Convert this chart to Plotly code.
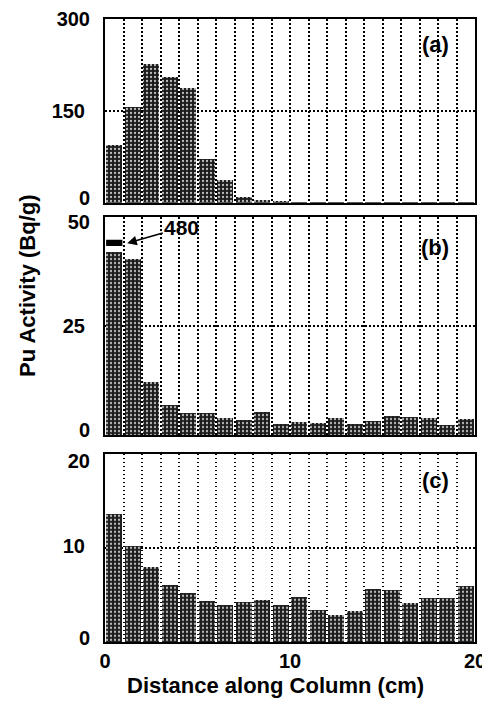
import plotly.graph_objects as go

# ---- data ----
positions = [i + 0.5 for i in range(20)]  # cm, centre of each 1-cm section
a_values = [95, 157, 227, 205, 187, 72, 37, 10, 4, 2, 1, 0.5, 0.5, 0.5, 0.5, 0.5, 0.5, 0.5, 0.5, 0.5]
b_values = [42.0, 40.4, 12.2, 6.8, 5.0, 5.1, 3.8, 3.4, 5.2, 2.5, 3.0, 2.8, 3.8, 2.5, 3.3, 4.4, 4.1, 3.8, 2.2, 3.7]
b_first_true = 480
c_values = [13.6, 10.2, 8.0, 6.1, 5.2, 4.4, 4.0, 4.3, 4.5, 3.9, 4.8, 3.4, 2.9, 3.3, 5.7, 5.55, 4.2, 4.7, 4.7, 6.0]
panel_labels = ["(a)", "(b)", "(c)"]
y_ticks = [[0, 150, 300], [0, 25, 50], [0, 10, 20]]
x_tick_labels = {0: "0", 10: "10", 20: "20"}
x_title = "Distance along Column (cm)"
y_title = "Pu Activity (Bq/g)"

bar_width = 0.88
FAMILY = "Liberation Sans, Arial, Helvetica, sans-serif"
FONT = dict(family=FAMILY, size=22, color="black", weight="bold")
TICKFONT = dict(family=FAMILY, size=20, color="black", weight="bold")

marker = dict(
    color="#1c1c1c",
    line=dict(width=0),
    pattern=dict(shape=".", fgcolor="#bdbdbd", bgcolor="#1c1c1c", size=4, solidity=0.25, fillmode="replace"),
)

fig = go.Figure()
series = [a_values, b_values, c_values]
for i, vals in enumerate(series):
    fig.add_trace(go.Bar(
        x=positions, y=vals, width=bar_width, marker=marker,
        xaxis="x" if i == 0 else f"x{i+1}", yaxis="y" if i == 0 else f"y{i+1}",
        showlegend=False,
    ))

domains = [[0.705, 1.0], [0.332, 0.682], [0.0, 0.302]]
# upward pixel nudges of the tick labels (bottom, middle, top), as in the original figure
label_up = [(5, 0, 0), (5, 0, -5), (4, 2, -7)]
tickvals_x = list(range(0, 21))
GRID_DASH = "1.5px,2.5px"
extra = 4
for i in range(3):
    sfx = "" if i == 0 else str(i + 1)
    lo, mid, hi = y_ticks[i]
    fig.update_layout(**{
        f"xaxis{sfx}": dict(
            domain=[0, 1], range=[0, 20], anchor=f"y{sfx}",
            tickvals=tickvals_x,
            ticktext=[x_tick_labels.get(v, "") if i == 2 else "" for v in tickvals_x],
            showgrid=True, gridcolor="black", griddash=GRID_DASH, gridwidth=1.5,
            showline=True, mirror=True, linecolor="black", linewidth=2,
            ticks="", tickfont=TICKFONT, zeroline=False, fixedrange=True,
            automargin=False, ticklabelstandoff=0,
        ),
        f"yaxis{sfx}": dict(
            domain=domains[i], range=[0, hi], anchor=f"x{sfx}",
            tickvals=[lo, mid, hi], ticktext=["", str(mid), ""],
            showgrid=True, gridcolor="black", griddash=GRID_DASH, gridwidth=1.5,
            showline=True, mirror=True, linecolor="black", linewidth=2,
            ticks="", tickfont=TICKFONT, zeroline=False, ticklabelstandoff=14,
            automargin=False, ticklabelshift=-label_up[i][1],
        ),
    })
    # labels for the end ticks, on overlaying axes so they can be nudged inward
    for val, up in ((lo, label_up[i][0]), (hi, label_up[i][2])):
        fig.update_layout(**{
            f"yaxis{extra}": dict(
                overlaying=f"y{sfx}", anchor=f"x{sfx}", side="left", range=[0, hi],
                tickvals=[val], ticktext=[str(val)], showgrid=False, showline=False,
                zeroline=False, ticks="", tickfont=TICKFONT, ticklabelstandoff=14,
                automargin=False, ticklabelshift=-up,
            )
        })
        # invisible placeholder so the overlaying axis is drawn
        fig.add_trace(go.Scatter(
            x=[positions[0]], y=[0], mode="markers", marker=dict(opacity=0),
            xaxis="x" if i == 0 else f"x{i+1}", yaxis=f"y{extra}",
            showlegend=False, hoverinfo="skip",
        ))
        extra += 1

# panel labels
for i, lab in enumerate(panel_labels):
    sfx = "" if i == 0 else str(i + 1)
    fig.add_annotation(
        text=lab, x=0.893, y=0.86, xref=f"x{sfx} domain", yref=f"y{sfx} domain",
        xanchor="center", yanchor="middle", showarrow=False, font=FONT,
    )

# broken first bar in (b): cap above the gap + arrow with true value
x0 = positions[0] - bar_width / 2
x1 = positions[0] + bar_width / 2
fig.add_shape(type="rect", xref="x2", yref="y2", x0=x0, x1=x1, y0=43.4, y1=44.8,
              fillcolor="black", line=dict(width=0))
fig.add_annotation(
    text=str(b_first_true), xref="x2", yref="y2", x=1.2, y=44.0,
    axref="x2", ayref="y2", ax=4.15, ay=47.6,
    showarrow=True, arrowhead=2, arrowsize=1.2, arrowwidth=1.6, arrowcolor="black",
    font=dict(family=FAMILY, size=21, color="black", weight="bold"),
)

# axis titles
fig.add_annotation(text=y_title, textangle=-90, x=-0.211, y=0.573, xref="paper", yref="paper",
                   showarrow=False, font=FONT, xanchor="center", yanchor="middle")
fig.add_annotation(text=x_title, x=0.462, y=-0.0706, xref="paper", yref="paper",
                   showarrow=False, font=FONT, xanchor="center", yanchor="middle")

# page body has an 8px margin, so the figure is 8px smaller than the window
fig.update_layout(
    width=482, height=694,
    margin=dict(l=97, r=15, t=11, b=60),
    paper_bgcolor="white", plot_bgcolor="white",
    bargap=0, font=FONT,
)

fig.write_html("out.html")
